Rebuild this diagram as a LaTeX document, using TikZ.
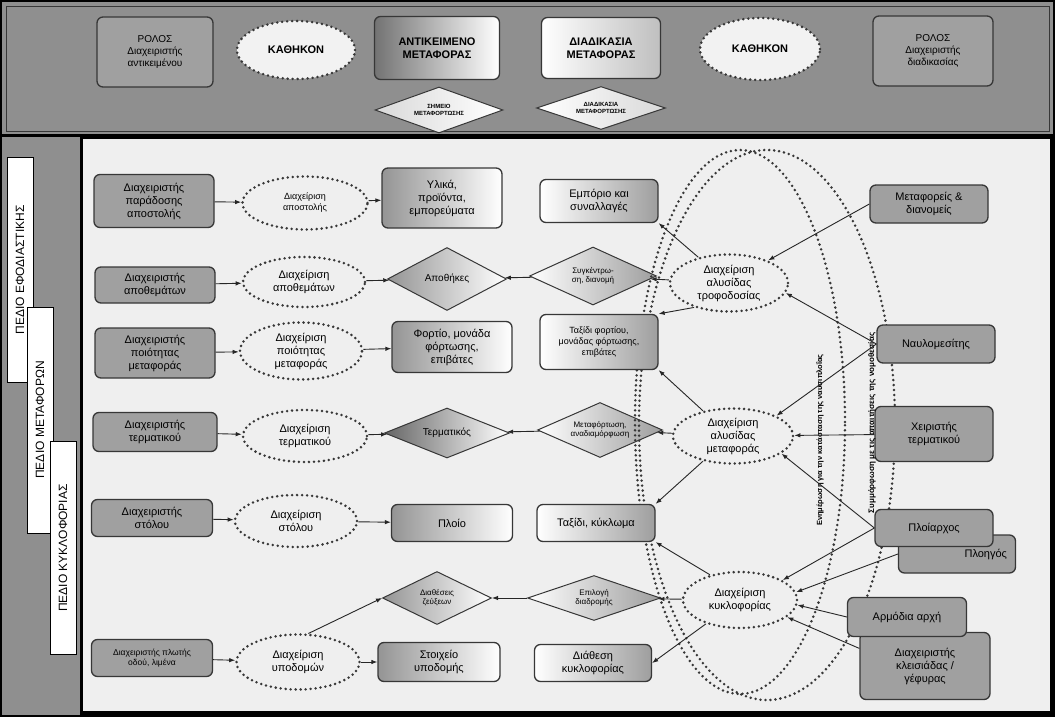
\documentclass[tikz,border=0pt]{standalone}
\usepackage{fontspec}
\setmainfont{Liberation Sans}
\usetikzlibrary{shapes.geometric,arrows.meta}

\definecolor{bandgray}{RGB}{143,143,143}
\definecolor{panegray}{RGB}{239,239,239}
\definecolor{rolegray}{RGB}{160,160,160}
\definecolor{linegray}{RGB}{55,55,55}

\tikzset{
  role/.style={draw=linegray,line width=1.3pt,rounded corners=6pt,fill=rolegray,align=center,inner sep=1pt,minimum width=118pt},
  task/.style={ellipse,draw=linegray,line width=2.8pt,dash pattern=on 0pt off 5pt,line cap=round,fill=panegray,align=center,inner sep=0pt,minimum width=122pt},
  objbox/.style={draw=linegray,line width=1.3pt,rounded corners=6pt,left color=black!42,right color=white,align=center,inner sep=1pt,minimum width=120pt},
  procbox/.style={draw=linegray,line width=1.3pt,rounded corners=6pt,left color=white,right color=black!38,align=center,inner sep=1pt,minimum width=118pt},
  objdia/.style={diamond,aspect=2.2,draw=linegray,line width=1pt,left color=black!42,right color=white,align=center,inner sep=0pt,font=\fontsize{8.5}{9.5}\selectfont},
  procdia/.style={diamond,aspect=2.2,draw=linegray,line width=1pt,left color=white,right color=black!38,align=center,inner sep=0pt,font=\fontsize{8}{9}\selectfont},
  field/.style={draw=black,line width=1pt,fill=white,rotate=90,minimum height=26pt,inner sep=0pt,font=\fontsize{12}{14}\selectfont},
  flow/.style={draw=black!85,line width=0.9pt,-{Latex[length=6pt,width=4.5pt]}},
  bigring/.style={draw=linegray,line width=2.8pt,dash pattern=on 0pt off 5pt,line cap=round},
  note/.style={rotate=90,font=\fontsize{7.5}{8}\selectfont\bfseries,inner sep=1pt}
}

\begin{document}
\begin{tikzpicture}[x=1pt,y=-1pt,font=\fontsize{11}{13}\selectfont]
\useasboundingbox (0,0) rectangle (1055,717);
% panels
\fill[black] (0,0) rectangle (1055,717);
\fill[bandgray] (2,2) rectangle (1053,134);
\draw[linegray,line width=0.8pt] (6,6) rectangle (1049,131);
\fill[bandgray] (2,137) rectangle (80,715);
\fill[panegray] (83,139) rectangle (1050,711);

% top legend
\node[role,minimum width=116pt,minimum height=70pt,font=\fontsize{10}{12}\selectfont] (rolA) at (155,52) {ΡΟΛΟΣ\\Διαχειριστής\\αντικειμένου};
\node[task,minimum width=118pt,minimum height=58pt,fill=white!95!black] (dutyA) at (296,50) {\bfseries ΚΑΘΗΚΟΝ};
\node[objbox,minimum width=125pt,minimum height=63pt,left color=black!55] (objT) at (437,48) {\bfseries ΑΝΤΙΚΕΙΜΕΝΟ\\\bfseries ΜΕΤΑΦΟΡΑΣ};
\node[objdia,minimum width=128pt,minimum height=46pt,left color=black!15,font=\fontsize{6}{7}\selectfont\bfseries] (objD) at (439,110) {ΣΗΜΕΙΟ\\ΜΕΤΑΦΟΡΤΩΣΗΣ};
\node[procbox,minimum width=119pt,minimum height=61pt,right color=black!25] (procT) at (601,48) {\bfseries ΔΙΑΔΙΚΑΣΙΑ\\\bfseries ΜΕΤΑΦΟΡΑΣ};
\node[procdia,minimum width=129pt,minimum height=43pt,right color=black!15,font=\fontsize{6}{7}\selectfont\bfseries] (procD) at (601,108) {ΔΙΑΔΙΚΑΣΙΑ\\ΜΕΤΑΦΟΡΤΩΣΗΣ};
\node[task,minimum width=120pt,minimum height=62pt,fill=white!95!black] (dutyB) at (760,49) {\bfseries ΚΑΘΗΚΟΝ};
\node[role,minimum width=120pt,minimum height=70pt,font=\fontsize{10}{12}\selectfont] (rolB) at (933,51) {ΡΟΛΟΣ\\Διαχειριστής\\διαδικασίας};

% fields
\node[field,minimum width=225pt] (fldA) at (20,270) {ΠΕΔΙΟ ΕΦΟΔΙΑΣΤΙΚΗΣ};
\node[field,minimum width=226pt] (fldB) at (40,420) {ΠΕΔΙΟ ΜΕΤΑΦΟΡΩΝ};
\node[field,minimum width=213pt] (fldC) at (63,548) {ΠΕΔΙΟ ΚΥΚΛΟΦΟΡΙΑΣ};

% diamonds
\node[objdia,minimum width=119pt,minimum height=63pt,font=\fontsize{10}{12}\selectfont] (store) at (447,279) {Αποθήκες};
\node[objdia,minimum width=125pt,minimum height=50pt,left color=black!60,font=\fontsize{10}{12}\selectfont] (term) at (447,433) {Τερματικός};
\node[objdia,minimum width=109pt,minimum height=53pt,font=\fontsize{8}{9}\selectfont] (links) at (437,598) {Διαθέσεις\\ζεύξεων};
\node[procdia,minimum width=127pt,minimum height=58pt] (hub) at (593,276) {Συγκέντρω-\\ση, διανομή};
\node[procdia,minimum width=125pt,minimum height=55pt] (tship) at (600,430) {Μεταφόρτωση,\\αναδιαμόρφωση};
\node[procdia,minimum width=133pt,minimum height=45pt] (route) at (594,598) {Επιλογή\\διαδρομής};

% big rings
\draw[bigring] (740,422) ellipse [x radius=105pt, y radius=272pt];
\draw[bigring] (767,425) ellipse [x radius=128pt, y radius=275pt];

% managers
\node[role,minimum width=120pt,minimum height=53pt] (mgrA) at (154,201) {Διαχειριστής\\παράδοσης\\αποστολής};
\node[role,minimum width=120pt,minimum height=36pt] (mgrB) at (155,285) {Διαχειριστής\\αποθεμάτων};
\node[role,minimum width=120pt,minimum height=50pt] (mgrC) at (155,353) {Διαχειριστής\\ποιότητας\\μεταφοράς};
\node[role,minimum width=124pt,minimum height=39pt] (mgrD) at (155,432) {Διαχειριστής\\τερματικού};
\node[role,minimum width=121pt,minimum height=37pt] (mgrE) at (152,518) {Διαχειριστής\\στόλου};
\node[role,minimum width=121pt,minimum height=37pt,font=\fontsize{8.5}{10}\selectfont] (mgrF) at (152,658) {Διαχειριστής πλωτής\\οδού, λιμένα};

% tasks
\node[task,minimum width=125pt,minimum height=53pt,font=\fontsize{9}{11}\selectfont] (tskA) at (305,203) {Διαχείριση\\αποστολής};
\node[task,minimum height=50pt] (tskB) at (304,282) {Διαχείριση\\αποθεμάτων};
\node[task,minimum height=57pt] (tskC) at (301,351) {Διαχείριση\\ποιότητας\\μεταφοράς};
\node[task,minimum width=124pt,minimum height=52pt] (tskD) at (305,436) {Διαχείριση\\τερματικού};
\node[task,minimum height=52pt] (tskE) at (296,521) {Διαχείριση\\στόλου};
\node[task,minimum width=123pt,minimum height=55pt] (tskF) at (298,662) {Διαχείριση\\υποδομών};

% objects
\node[objbox,minimum height=60pt] (goods) at (442,198) {Υλικά,\\προϊόντα,\\εμπορεύματα};
\node[objbox,minimum height=51pt] (load) at (452,347) {Φορτίο, μονάδα\\φόρτωσης,\\επιβάτες};
\node[objbox,minimum width=121pt,minimum height=37pt] (ship) at (452,523) {Πλοίο};
\node[objbox,minimum width=122pt,minimum height=39pt] (infra) at (439,662) {Στοιχείο\\υποδομής};

% processes
\node[procbox,minimum height=43pt] (trade) at (599,201) {Εμπόριο και\\συναλλαγές};
\node[procbox,minimum height=55pt,font=\fontsize{9}{11}\selectfont] (cargo) at (599,342) {Ταξίδι φορτίου,\\μονάδας φόρτωσης,\\επιβάτες};
\node[procbox,minimum height=37pt] (voyage) at (596,523) {Ταξίδι, κύκλωμα};
\node[procbox,minimum width=117pt,minimum height=37pt] (slot) at (593,663) {Διάθεση\\κυκλοφορίας};

% chains
\node[task,minimum width=118pt,minimum height=57pt] (scm) at (729,283) {Διαχείριση\\αλυσίδας\\τροφοδοσίας};
\node[task,minimum width=120pt,minimum height=55pt] (tcm) at (733,436) {Διαχείριση\\αλυσίδας\\μεταφοράς};
\node[task,minimum width=114pt,minimum height=56pt] (traffic) at (740,600) {Διαχείριση\\κυκλοφορίας};

% process roles
\node[role,minimum height=38pt] (carrier) at (929,204) {Μεταφορείς \&\\διανομείς};
\node[role,minimum height=38pt] (broker) at (936,344) {Ναυλομεσίτης};
\node[role,minimum height=55pt] (tmop) at (934,434) {Χειριστής\\τερματικού};
\node[role,minimum width=117pt,minimum height=38pt,text width=100pt,align=right] (pilot) at (957,554) {Πλοηγός};
\node[role,minimum height=37pt] (master) at (934,528) {Πλοίαρχος};
\node[role,minimum width=130pt,minimum height=67pt] (lockop) at (925,666) {Διαχειριστής\\κλεισιάδας /\\γέφυρας};
\node[role,minimum width=119pt,minimum height=39pt] (auth) at (907,617) {Αρμόδια αρχή};

% notes
\node[note] (noteA) at (820,440) {Ενημέρωση για την κατάσταση της ναυσιπλοΐας};
\node[note,font=\fontsize{8}{9}\selectfont\bfseries] (noteB) at (872,423) {Συμμόρφωση με τις απαιτήσεις της νομοθεσίας};

% flows
\foreach \a/\b in {mgrA/tskA, tskA/goods, mgrB/tskB, tskB/store, hub/store, scm/hub,
                   mgrC/tskC, tskC/load, mgrD/tskD, tskD/term, tship/term, tcm/tship,
                   mgrE/tskE, tskE/ship, mgrF/tskF, tskF/infra, route/links, traffic/route, tmop/tcm}
  \draw[flow] (\a) -- (\b);
\draw[flow] (tskF.70) -- (links.west);
\draw[flow] (scm.140) -- (trade.south east);
\draw[flow] (scm.215) -- (cargo.north east);
\draw[flow] (carrier.west) -- (scm.30);
\draw[flow] (broker.west) -- (scm.350);
\draw[flow] (broker.west) -- (tcm.25);
\draw[flow] (tcm.140) -- (cargo.south east);
\draw[flow] (tcm.220) -- (voyage.north east);
\draw[flow] (master.west) -- (tcm.340);
\draw[flow] (traffic.140) -- (voyage.south east);
\draw[flow] (traffic.215) -- (slot.east);
\draw[flow] (master.west) -- (traffic.25);
\draw[flow] (pilot.west) -- (traffic.8);
\draw[flow] (auth.west) -- (traffic.355);
\draw[flow] (lockop.165) -- (traffic.340);
\end{tikzpicture}
\end{document}
